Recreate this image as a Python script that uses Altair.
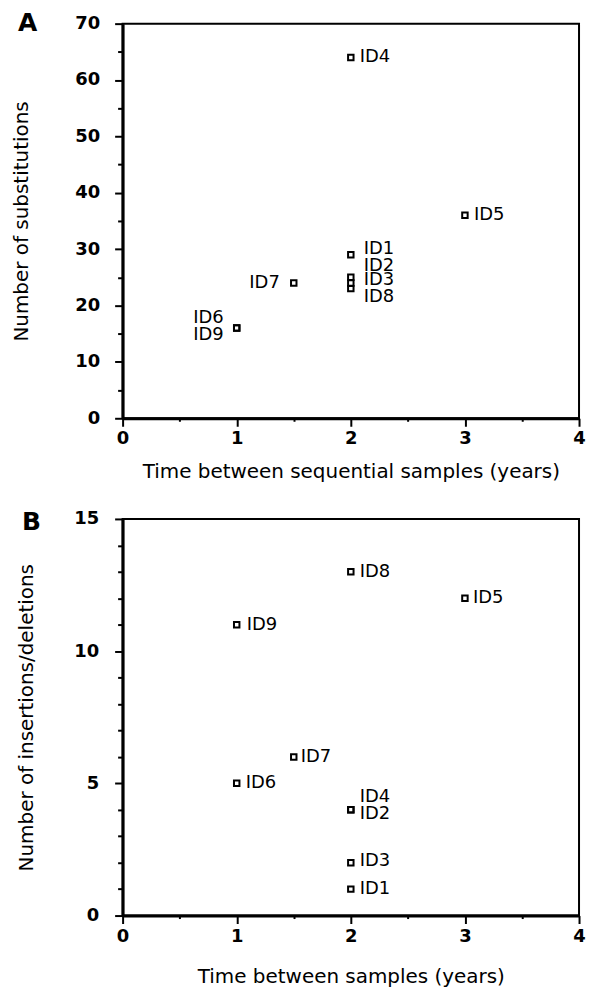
import altair as alt
import pandas as pd

# ---- data ----
ids = ["ID1", "ID2", "ID3", "ID4", "ID5", "ID6", "ID7", "ID8", "ID9"]
years = [2, 2, 2, 2, 3, 1, 1.5, 2, 1]
substitutions = [29, 25, 24, 64, 36, 16, 24, 23, 16]
indels = [1, 4, 2, 4, 12, 5, 6, 13, 11]

x_ticks = [0, 0.5, 1, 1.5, 2, 2.5, 3, 3.5, 4]
a_y_ticks = [0, 5, 10, 15, 20, 25, 30, 35, 40, 45, 50, 55, 60, 65, 70]
b_y_ticks = [0, 1, 2, 3, 4, 5, 6, 7, 8, 9, 10, 11, 12, 13, 14, 15]

df_a = pd.DataFrame({"id": ids, "years": years, "value": substitutions})
df_b = pd.DataFrame({"id": ids, "years": years, "value": indels})

# label placement (align, dx, dy) relative to the point
place_a = {
    "ID1": ("left", 13, -6), "ID2": ("left", 13, -11), "ID3": ("left", 13, -3),
    "ID8": ("left", 13, 8), "ID4": ("left", 9, 0), "ID5": ("left", 9, 0),
    "ID7": ("right", -14, 0), "ID6": ("right", -13, -10), "ID9": ("right", -13, 7),
}
place_b = {
    "ID1": ("left", 9, 0), "ID2": ("left", 9, 4), "ID3": ("left", 9, -2),
    "ID4": ("left", 9, -13), "ID5": ("left", 8, 0), "ID6": ("left", 9, 0),
    "ID7": ("left", 7, 0), "ID8": ("left", 9, 0), "ID9": ("left", 10, 0),
}

FONT = "DejaVu Sans"


def panel(df, ydomain, yticks, ymajor, ytitle, xtitle, letter, place, height,
          ylabpad, ytitlepad, xlabpad, xtitlepad, tdx, tdy):
    x = alt.X(
        "years:Q",
        scale=alt.Scale(domain=[0, 4], nice=False, zero=True),
        axis=alt.Axis(
            values=x_ticks, title=xtitle, grid=False,
            labelExpr="datum.value % 1 === 0 ? format(datum.value, 'd') : ''",
            tickSize={"condition": {"test": "datum.value % 1 === 0", "value": 8}, "value": 3},
            labelPadding=xlabpad, titlePadding=xtitlepad, labelFlush=False,
            labelOverlap=False,
        ),
    )
    y = alt.Y(
        "value:Q",
        scale=alt.Scale(domain=ydomain, nice=False, zero=True),
        axis=alt.Axis(
            values=yticks, title=ytitle, grid=False,
            labelExpr=f"datum.value % {ymajor} === 0 ? datum.label : ''",
            tickSize={"condition": {"test": f"datum.value % {ymajor} === 0", "value": 8}, "value": 5},
            labelPadding=ylabpad, titlePadding=ytitlepad, labelFlush=False,
            labelOverlap=False,
        ),
    )
    base = alt.Chart(df)
    layers = [
        base.mark_square(filled=False, size=30, strokeWidth=2, color="black",
                         opacity=1).encode(x=x, y=y)
    ]
    for lab, (align, dx, dy) in place.items():
        layers.append(
            base.transform_filter(alt.datum.id == lab)
            .mark_text(align=align, baseline="middle", dx=dx, dy=dy,
                       font=FONT, fontSize=18, color="black")
            .encode(x=x, y=y, text="id:N")
        )
    return alt.layer(*layers).properties(
        width=458, height=height,
        title=alt.TitleParams(
            text=letter, anchor="start", frame="group", orient="top",
            font=FONT, fontSize=25, fontWeight="bold", color="black",
            baseline="alphabetic", offset=0, dx=tdx, dy=tdy,
        ),
    )


a = panel(df_a, [0, 70], a_y_ticks, 10, "Number of substitutions",
          "Time between sequential samples (years)", "A", place_a, 396,
          15, 43, 3, 14, -105, 41)
b = panel(df_b, [0, 15], b_y_ticks, 5, "Number of insertions/deletions",
          "Time between samples (years)", "B", place_b, 398,
          16, 37, 4, 21, -101, 45)

chart = (
    alt.vconcat(a, b, spacing=27)
    .properties(padding={"left": 2, "top": 0, "right": 0, "bottom": 0}, background="white")
    .configure_view(stroke="black", strokeWidth=2)
    .configure_axis(
        domainColor="black", domainWidth=3, tickColor="black", tickWidth=2,
        labelFont=FONT, labelFontSize=18, labelFontWeight="bold", labelColor="black",
        titleFont=FONT, titleFontSize=20, titleFontWeight="normal", titleColor="black",
    )
)

chart.save("out.html", embed_options={"renderer": "svg", "actions": False})
